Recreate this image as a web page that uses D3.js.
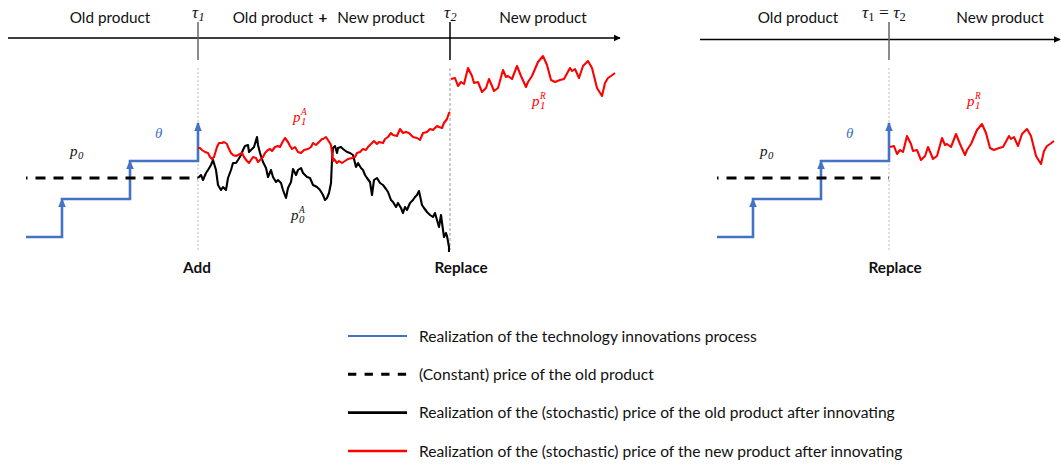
<!DOCTYPE html>
<html>
<head>
<meta charset="utf-8">
<script src="https://cdn.jsdelivr.net/npm/d3@7"></script>
<style>
  body { margin: 0; background: #fff; }
  text { font-family: Lato, "Open Sans", sans-serif; }
  .math { font-family: "Liberation Serif", "DejaVu Serif", serif; font-style: italic; }
</style>
</head>
<body>
<svg id="chart" width="1061" height="464"></svg>
<script>
// innovation times (time units) and price levels
var tau1 = 86, tau2 = 212;
var thetaTimes = [0, 18, 52, 86];
var thetaLevels = [10, 29, 48, 67];
var p0 = 39.5;

// price of the new product after "Add" (red)
var p1A = [[86,54.5],[87,54.5],[88,53.5],[89.5,52.5],[91,52],[92,50],[93,49],[94,50],[95.5,55],[96.5,57],[98,57],[99,57.5],
  [100.5,56.5],[101,55],[102.5,52],[103.5,51],[105,50.5],[106,51],[108,52],[109,50],[110.5,48],[111.5,47],[112.5,48.5],
  [113.5,50],[115,49.5],[116,47.5],[117.5,49],[118.5,50],[119.5,52],[121,53.5],[122,54],[123,53],[124.5,55],[126,55.5],
  [127,55],[128,57],[129.5,59.5],[131,57.5],[132,55.5],[133,54],[134.5,55],[136,52.5],[137.5,52],[139,53.5],[141,54],
  [142.5,55],[143.5,57],[145,56],[146.5,57.5],[148,59],[148.5,59],[150,60],[151,58.5],[152.5,56],[153.5,48],[154,49],
  [155.5,47],[156.5,48],[158,47],[159.5,48],[161,49],[163,49.5],[164.5,50],[165.5,52],[167,52.5],[168.5,54],[170,53.5],
  [171,55],[173,57],[174,58],[175.5,56.5],[176.5,57.5],[178.5,57],[179.5,59],[181,60],[182.5,62],[183.5,61],[185.5,60.5],
  [187,64],[188.5,62],[190,62.5],[191.5,62],[193.5,60],[195.5,59.5],[197,58.5],[198.5,62],[200.5,62.5],[202,64],
  [203.5,63.5],[205.5,65.5],[206.5,65],[208,64.5],[209,67],[210.5,69],[211.5,72],[212,72.5]];

// price of the old product after "Add" (black)
var p0A = [[86,39.5],[87.5,41],[88.5,38.5],[90,42],[91,43.5],[92.5,46],[93.5,48.5],[95,43.5],[96,36],[97.5,33.5],[98.5,35],
  [100,33.5],[101,39.5],[102.5,43.5],[103.5,47],[105,47],[106,48.5],[107.5,51],[108.5,53.5],[109.5,55.5],[111,56],
  [111.5,52.5],[113,54],[114,55],[115.5,60],[116,56],[117,52],[118.5,47.5],[120,44.5],[121,40],[122.5,43.5],[123.5,40],
  [125,37.5],[126,38.5],[127.5,37],[128.5,33.5],[130,29.5],[131,34.5],[132.5,37.5],[133.5,44],[135,41],[136,43.5],
  [137.5,44.5],[138.5,42],[140.5,40],[142,39.5],[143.5,36],[145.5,35],[147,33.5],[148.5,31],[149.5,28.5],[150.5,29.5],
  [151.5,32],[152.5,37],[153,48.5],[153.5,54.5],[154.5,55.5],[155.5,52],[156,54.5],[157.5,55],[158.5,54],[160.5,52.5],
  [162,52],[163.5,51],[165,45],[166,47],[167.5,44.5],[168.5,43.5],[169.5,41],[170.5,39.5],[172,37.5],[173,31],[174,38.5],
  [175.5,39.5],[177,37],[178.5,36],[180,34],[181,32.5],[182.5,28.5],[183.5,27.5],[185,25],[186,27],[187.5,24.5],[188.5,22],
  [189.5,25],[190.5,23.5],[192,27],[193.5,28.5],[194.5,30],[195.5,31],[196.5,33],[198,26],[199,24.5],[200.5,22.5],
  [202,21],[203.5,20],[204.5,22],[205.5,18.5],[206.5,15],[207.5,21],[208.5,13.5],[209,10],[210,12],[210.5,10.5],
  [211.5,5],[211.5,2.5]];

// price of the new product after "Replace" (red), as drawn in the left panel
var p1R = [[212.5,89],[214.5,89.5],[216,85.5],[217.5,87.5],[219,86.5],[221,94.5],[223,90.5],[224,87],[226,87.5],[228,82.5],
  [230,84.5],[231.5,89],[233,85.5],[234,83],[236,84.5],[238.5,93.5],[240,90],[241,90.5],[243,89],[245.5,95.5],[247.5,90.5],
  [250,85],[251,87.5],[253,90.5],[256,97.5],[258.5,100.5],[260.5,96],[262.5,88.5],[264.5,87.5],[267,88.5],[269,89],
  [272,94.5],[273,93],[274.5,94],[276.5,89.5],[278.5,95.5],[281,98],[283,94.5],[285.5,84.5],[288,80.5],[289.5,87],
  [291,89.5],[292.5,90.5],[294.5,92]];
// the right panel shows the same path, replaced at tau1 and lower by this much
var p1RRightDrop = 34;

var legendLabels = [
  "Realization of the technology innovations process",
  "(Constant) price of the old product",
  "Realization of the (stochastic) price of the old product after innovating",
  "Realization of the (stochastic) price of the new product after innovating"
];

var blue = "#4472C4", red = "#FF0000";

var svg = d3.select("#chart");

var xL = d3.scaleLinear().domain([0, 295]).range([26, 616]);
var xR = d3.scaleLinear().domain([0, 171]).range([717, 1059]);
var y = d3.scaleLinear().domain([0, 100]).range([257, 57]);

var defs = svg.append("defs");
defs.append("marker").attr("id", "axArrow")
  .attr("viewBox", "0 0 10 10").attr("refX", 9).attr("refY", 5)
  .attr("markerWidth", 7).attr("markerHeight", 7).attr("markerUnits", "userSpaceOnUse")
  .attr("orient", "auto")
  .append("path").attr("d", "M0,0 L10,5 L0,10 z").attr("fill", "#000");

// timeline on top
function timeline(x0, x1, yy) {
  svg.append("line").attr("x1", x0).attr("x2", x1).attr("y1", yy).attr("y2", yy)
    .attr("stroke", "#000").attr("stroke-width", 1.3).attr("marker-end", "url(#axArrow)");
}
timeline(8, 620, 38);
timeline(700, 1060, 39.5);

function tick(x, color) {
  svg.append("line").attr("x1", x).attr("x2", x).attr("y1", 22).attr("y2", 60)
    .attr("stroke", color).attr("stroke-width", 1.5);
}
function guide(x, dash, color) {
  svg.append("line").attr("x1", x).attr("x2", x).attr("y1", 68).attr("y2", 250)
    .attr("stroke", color).attr("stroke-width", 1).attr("stroke-dasharray", dash);
}

function label(x, yy, txt, opts) {
  opts = opts || {};
  return svg.append("text").attr("x", x).attr("y", yy)
    .attr("text-anchor", opts.anchor || "middle")
    .attr("font-size", opts.size || 15.3)
    .attr("font-weight", opts.bold ? "bold" : null)
    .attr("fill", "#111").text(txt);
}

// math label: base with optional subscript / superscript
function mathLabel(x, yy, base, sub, sup, color, size) {
  size = size || 15;
  var t = svg.append("text").attr("class", "math").attr("x", x).attr("y", yy)
    .attr("font-size", size).attr("fill", color).text(base);
  var w = t.node().getComputedTextLength();
  if (sub != null) svg.append("text").attr("class", "math").attr("font-style", "normal")
    .attr("x", x + w + 0.5).attr("y", yy + 3).attr("font-size", size * 0.72).attr("fill", color).text(sub);
  if (sup != null) svg.append("text").attr("class", "math")
    .attr("x", x + w + 0.5).attr("y", yy - 7).attr("font-size", size * 0.62).attr("fill", color).text(sup);
}

// theta step process with arrows at each jump
function thetaSteps(x) {
  var pts = [];
  thetaTimes.forEach(function(t, i) {
    if (i > 0) pts.push([t, thetaLevels[i - 1]]);
    pts.push([t, thetaLevels[i]]);
  });
  svg.append("path").attr("d", d3.line().x(function(d) { return x(d[0]); }).y(function(d) { return y(d[1]); })(pts))
    .attr("fill", "none").attr("stroke", blue).attr("stroke-width", 2.6);
  thetaTimes.slice(1).forEach(function(t, i) {
    var tx = x(t), ty = y(thetaLevels[i + 1]);
    svg.append("path").attr("d", "M" + tx + "," + (ty - 1) + " L" + (tx - 3.8) + "," + (ty + 8) + " L" + (tx + 3.8) + "," + (ty + 8) + " Z")
      .attr("fill", blue);
  });
}

function oldPrice(x) {
  svg.append("line").attr("x1", x(0)).attr("x2", x(tau1)).attr("y1", y(p0)).attr("y2", y(p0))
    .attr("stroke", "#000").attr("stroke-width", 2.8)
    .attr("stroke-dasharray", "10,8").attr("stroke-dashoffset", 8.5);
}

function walk(data, x, color, dt, dp) {
  svg.append("path").datum(data)
    .attr("d", d3.line().x(function(d) { return x(d[0] + dt); }).y(function(d) { return y(d[1] + dp); }))
    .attr("fill", "none").attr("stroke", color).attr("stroke-width", 2.1).attr("stroke-linejoin", "round");
}

// ---- left panel
guide(xL(tau1), "2,2", "#bbb");
guide(xL(tau2), "3,2", "#999");
tick(xL(tau1), "#666");
tick(xL(tau2), "#000");
thetaSteps(xL);
oldPrice(xL);
walk(p0A, xL, "#000", 0, 0);
walk(p1A, xL, red, 0, 0);
walk(p1R, xL, red, 0, 0);

label(110, 23, "Old product");
label(273, 23, "Old product");
label(323, 23, "+", { bold: true });
label(381, 23, "New product");
label(543, 23, "New product");
mathLabel(192, 18, "τ", "1", null, "#111", 17);
mathLabel(444, 18, "τ", "2", null, "#111", 17);
mathLabel(70, 156, "p", "0", null, "#111");
mathLabel(155, 138, "θ", null, null, blue);
mathLabel(293, 122, "p", "1", "A", red);
mathLabel(291, 220, "p", "0", "A", "#111");
mathLabel(532, 106, "p", "1", "R", red);
label(197, 273, "Add", { bold: true });
label(461, 273, "Replace", { bold: true });

// ---- right panel
guide(xR(tau1), "2,2", "#bbb");
tick(xR(tau1), "#666");
thetaSteps(xR);
oldPrice(xR);
walk(p1R, xR, red, tau1 - tau2, -p1RRightDrop);

label(798, 23, "Old product");
label(1000, 23, "New product");
var tt = svg.append("text").attr("class", "math").attr("x", 862).attr("y", 18).attr("font-size", 17.5).attr("fill", "#111");
tt.append("tspan").text("τ");
tt.append("tspan").attr("font-style", "normal").attr("font-size", 12.5).attr("dy", 3).text("1");
tt.append("tspan").attr("font-style", "normal").attr("dy", -3).text(" = ");
tt.append("tspan").text("τ");
tt.append("tspan").attr("font-style", "normal").attr("font-size", 12.5).attr("dy", 3).text("2");
mathLabel(760, 156, "p", "0", null, "#111");
mathLabel(846, 138, "θ", null, null, blue);
mathLabel(967, 106, "p", "1", "R", red);
label(895, 273, "Replace", { bold: true });

// ---- legend
var legStyles = [
  { color: blue, dash: null, w: 2.2 },
  { color: "#000", dash: "8.3,8.3", w: 3 },
  { color: "#000", dash: null, w: 2.6 },
  { color: red, dash: null, w: 2.6 }
];
var legY = d3.scalePoint().domain(d3.range(legendLabels.length)).range([336, 451]);
var leg = svg.append("g").selectAll("g").data(legendLabels).join("g")
  .attr("transform", function(d, i) { return "translate(0," + legY(i) + ")"; });
leg.append("line").attr("x1", 348).attr("x2", 407).attr("y1", 0).attr("y2", 0)
  .attr("stroke", function(d, i) { return legStyles[i].color; })
  .attr("stroke-width", function(d, i) { return legStyles[i].w; })
  .attr("stroke-dasharray", function(d, i) { return legStyles[i].dash; });
leg.append("text").attr("x", 419).attr("y", 5.5).attr("font-size", 15.6).attr("fill", "#111")
  .text(function(d) { return d; });
</script>
</body>
</html>
